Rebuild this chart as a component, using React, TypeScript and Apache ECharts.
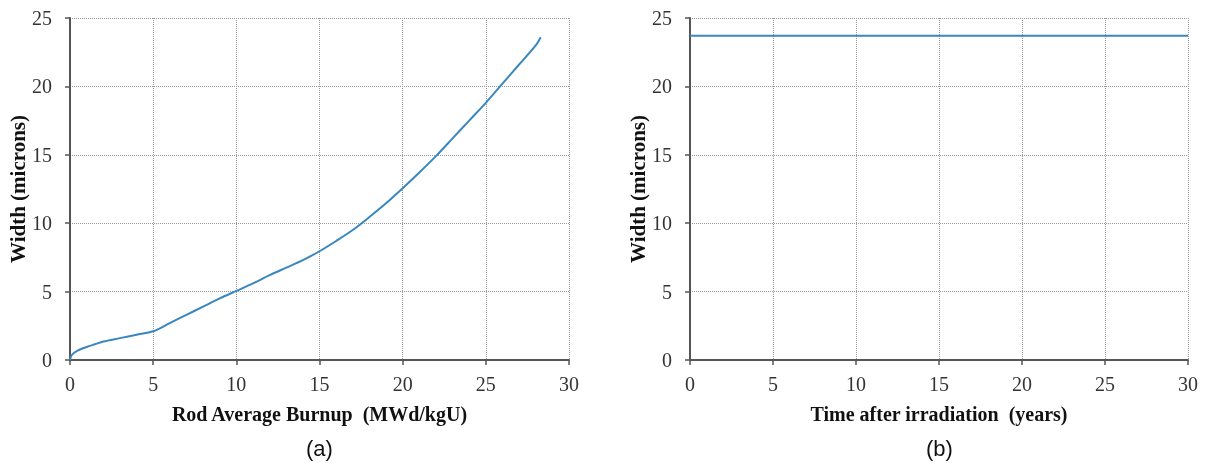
import React, { useEffect, useRef } from "react";
import * as echarts from "echarts";

const burnup = [0, 0.1, 0.4, 1, 1.5, 2, 3, 4, 5, 6, 7, 8, 9, 10, 11, 12, 13, 14, 15, 16, 17, 18, 19, 20, 21, 22, 23, 24, 25, 26, 27, 28, 28.3];
const widthA = [0, 0.35, 0.65, 0.95, 1.15, 1.35, 1.6, 1.85, 2.1, 2.7, 3.3, 3.9, 4.5, 5.05, 5.6, 6.2, 6.75, 7.3, 7.95, 8.7, 9.5, 10.45, 11.45, 12.55, 13.7, 14.9, 16.2, 17.5, 18.8, 20.2, 21.6, 23.0, 23.6];
const timeYears = [0, 30];
const widthB = [23.7, 23.7];
const xTicks = [0, 30, 5];
const yTicks = [0, 25, 5];

const serif = "Liberation Serif";
const lineColor = "#3a87bf";

export default function App() {
  const ref = useRef<HTMLDivElement>(null);
  useEffect(() => {
    if (!ref.current) return;
    const chart = echarts.init(ref.current, null, { renderer: "svg" });
    const lab = { fontFamily: serif, fontSize: 20, color: "#333" };
    const nameStyleX = { fontFamily: serif, fontWeight: "bold", fontSize: 20, color: "#111" };
    const nameStyleY = { fontFamily: serif, fontWeight: "bold", fontSize: 21, color: "#111" };
    const axLine = { show: true, lineStyle: { color: "#555", width: 2 } };
    const axTick = { show: true, length: 5, lineStyle: { color: "#555", width: 1.5 } };
    const split = { show: true, lineStyle: { type: "dotted", color: "#999", width: 1 } };
    chart.setOption({
      animation: false,
      title: [
        { text: "(a)", left: 306, top: 437, padding: 0, textStyle: { fontFamily: "Liberation Sans", fontWeight: "normal", fontSize: 22, color: "#111" } },
        { text: "(b)", left: 926, top: 437, padding: 0, textStyle: { fontFamily: "Liberation Sans", fontWeight: "normal", fontSize: 22, color: "#111" } },
      ],
      grid: [
        { left: 70, top: 18, width: 499, height: 342 },
        { left: 690, top: 18, width: 498, height: 342 },
      ],
      xAxis: [
        {
          type: "value", gridIndex: 0, min: xTicks[0], max: xTicks[1], interval: xTicks[2],
          name: "Rod Average Burnup  (MWd/kgU)", nameLocation: "middle", nameGap: 44,
          nameTextStyle: nameStyleX,
          axisLine: axLine, axisTick: axTick,
          axisLabel: { ...lab, margin: 14 },
          splitLine: split,
        },
        {
          type: "value", gridIndex: 1, min: xTicks[0], max: xTicks[1], interval: xTicks[2],
          name: "Time after irradiation  (years)", nameLocation: "middle", nameGap: 44,
          nameTextStyle: nameStyleX,
          axisLine: axLine, axisTick: axTick,
          axisLabel: { ...lab, margin: 14 },
          splitLine: split,
        },
      ],
      yAxis: [
        {
          type: "value", gridIndex: 0, min: yTicks[0], max: yTicks[1], interval: yTicks[2],
          name: "Width (microns)", nameLocation: "middle", nameGap: 42, nameRotate: 90,
          nameTextStyle: nameStyleY,
          axisLine: axLine, axisTick: axTick,
          axisLabel: { ...lab, margin: 18 },
          splitLine: split,
        },
        {
          type: "value", gridIndex: 1, min: yTicks[0], max: yTicks[1], interval: yTicks[2],
          name: "Width (microns)", nameLocation: "middle", nameGap: 42, nameRotate: 90,
          nameTextStyle: nameStyleY,
          axisLine: axLine, axisTick: axTick,
          axisLabel: { ...lab, margin: 18 },
          splitLine: split,
        },
      ],
      series: [
        { type: "line", xAxisIndex: 0, yAxisIndex: 0, data: burnup.map((b, i) => [b, widthA[i]]), showSymbol: false, smooth: 0.3, lineStyle: { color: lineColor, width: 2 } },
        { type: "line", xAxisIndex: 1, yAxisIndex: 1, data: timeYears.map((t, i) => [t, widthB[i]]), showSymbol: false, lineStyle: { color: lineColor, width: 2 } },
      ],
    });
    return () => chart.dispose();
  }, []);
  return <div ref={ref} style={{ position: "fixed", left: 0, top: 0, width: 1209, height: 463 }} />;
}
